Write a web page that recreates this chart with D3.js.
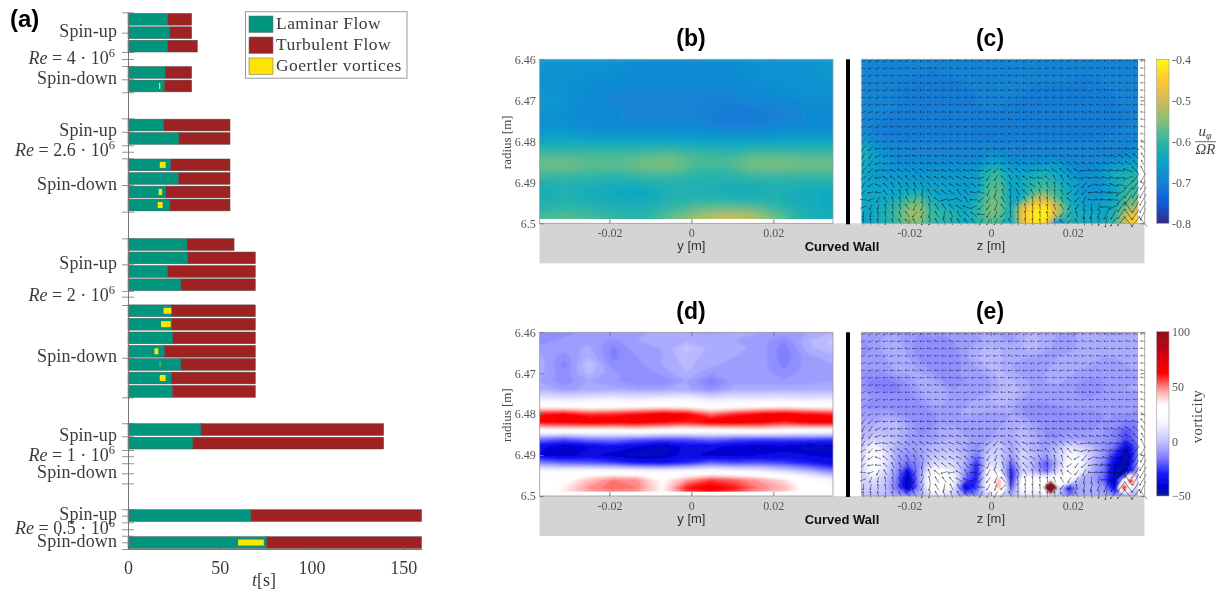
<!DOCTYPE html>
<html>
<head>
<meta charset="utf-8">
<style>
  html, body { margin: 0; padding: 0; background: #fff; }
  svg { display: block; }
  .serif { font-family: "Liberation Serif", serif; }
  .sans { font-family: "Liberation Sans", sans-serif; }
</style>
<script src="https://cdn.jsdelivr.net/npm/d3@7"></script>
</head>
<body>
<script>
const width = 1228;
const height = 594;

// ---- panel (a) data: times in seconds, rows in axis slots ----
const rowSlots = [0, 1, 2, 3.96, 4.97, 7.88, 8.88, 10.85, 11.86, 12.87, 13.84, 16.78, 17.78, 18.79, 19.78,
  21.72, 22.72, 23.74, 24.74, 25.72, 26.73, 27.73, 30.57, 31.58, 36.98, 38.99];
const laminarEnd = [21.8, 22.9, 21.8, 20.3, 20, 19.6, 27.8, 23.4, 27.6, 20.7, 22.9, 32.2, 32.7, 21.8, 28.9,
  23.6, 23.8, 24.5, 20, 28.9, 23.6, 24.2, 39.8, 35.4, 67, 75.6];
const runEnd = [34.7, 34.7, 37.8, 34.7, 34.7, 55.6, 55.6, 55.6, 55.6, 55.6, 55.6, 57.8, 69.4, 69.4, 69.4,
  69.4, 69.4, 69.4, 69.4, 69.4, 69.4, 69.4, 139.3, 139.3, 160, 160];
const goertlerStart = [null, null, null, null, 16.9, null, null, 17.3, null, 16.7, 16.2, null, null, null, null,
  19.4, 18, null, 14.4, 17.3, 17.3, null, null, null, null, 60];
const goertlerEnd = [null, null, null, null, 17.6, null, null, 20.5, null, 18.5, 18.9, null, null, null, null,
  23.6, 23.3, null, 16.5, 17.6, 20.5, null, null, null, null, 74];
const yTickSlots = [-0.52, 1, 2.44, 2.96, 3.48, 4.47, 5.44, 7.38, 8.38, 9.39, 9.87, 10.36, 12.35, 14.34, 16.32,
  18.26, 20.24, 20.67, 21.29, 25.22, 28.17, 30.1, 31.07, 32.09, 32.56, 33.08, 33.83, 34.58, 36.51, 36.99,
  37.48, 38, 38.48, 38.97, 39.47];
const phaseLabels = ["Spin-up", "Spin-down", "Spin-up", "Spin-down", "Spin-up", "Spin-down", "Spin-up", "Spin-down", "Spin-up", "Spin-down"];
const phaseSlots = [1, 4.47, 8.38, 12.35, 18.26, 25.22, 31.07, 33.83, 36.99, 38.97];
const reLabels = ["4", "2.6", "2", "1", "0.5"];
const reSlots = [2.96, 9.87, 20.67, 32.56, 38];
const timeTicks = [0, 50, 100, 150];
const legendNames = ["Laminar Flow", "Turbulent Flow", "Goertler vortices"];
const legendColors = ["#00967d", "#9e2024", "#ffe400"];

// ---- panel (b): velocity in hundredths, one row per radius ----
const bRows = [
  [-67,-67,-67,-68,-68,-69,-68,-68,-68,-68,-68,-67],
  [-67,-68,-68,-68,-69,-69,-69,-69,-68,-68,-67,-67],
  [-68,-68,-68,-69,-69,-69,-69,-69,-68,-68,-68,-67],
  [-67,-68,-69,-69,-69,-69,-69,-69,-69,-68,-68,-68],
  [-67,-67,-69,-70,-70,-70,-70,-70,-69,-69,-68,-68],
  [-67,-68,-69,-69,-70,-70,-70,-71,-71,-70,-69,-69],
  [-68,-68,-69,-69,-70,-70,-70,-71,-71,-70,-69,-69],
  [-67,-67,-68,-68,-68,-68,-68,-69,-69,-68,-68,-68],
  [-64,-64,-64,-64,-64,-65,-65,-65,-65,-65,-64,-64],
  [-60,-60,-60,-60,-60,-59,-60,-61,-60,-60,-60,-60],
  [-56,-56,-57,-57,-55,-55,-58,-58,-55,-55,-56,-56],
  [-58,-58,-59,-59,-58,-58,-60,-60,-58,-58,-58,-58],
  [-62,-62,-62,-63,-62,-62,-62,-62,-62,-62,-62,-62],
  [-63,-62,-63,-64,-64,-62,-62,-63,-63,-62,-63,-64],
  [-62,-61,-62,-63,-63,-61,-60,-60,-61,-62,-63,-64],
  [-60,-59,-60,-61,-61,-58,-55,-53,-54,-58,-62,-63],
  [-57,-56,-57,-59,-60,-55,-50,-48,-50,-56,-62,-63]
];

// ---- panel (c): velocity in hundredths ----
const cRows = [
  [-70,-70,-70,-70,-70,-70,-70,-70,-70,-70,-70,-70,-70,-70,-70,-70,-70,-70,-70,-70,-70,-70,-70,-70,-70],
  [-70,-70,-70,-70,-70,-70,-70,-70,-70,-70,-70,-70,-70,-70,-70,-70,-70,-70,-70,-70,-70,-70,-70,-70,-70],
  [-70,-70,-70,-70,-70,-70,-71,-70,-70,-70,-70,-70,-70,-70,-70,-70,-70,-70,-70,-70,-70,-70,-70,-70,-70],
  [-70,-70,-70,-70,-71,-71,-71,-71,-71,-70,-70,-70,-70,-70,-70,-70,-70,-70,-70,-71,-71,-70,-70,-70,-70],
  [-70,-70,-70,-70,-71,-71,-71,-71,-71,-71,-70,-70,-70,-70,-70,-71,-71,-71,-71,-71,-71,-71,-70,-70,-70],
  [-70,-70,-70,-70,-71,-71,-71,-71,-71,-71,-70,-70,-70,-70,-71,-71,-71,-71,-71,-71,-71,-71,-70,-70,-70],
  [-70,-70,-70,-70,-71,-71,-71,-71,-71,-71,-71,-70,-70,-71,-71,-71,-71,-71,-71,-71,-71,-71,-71,-70,-70],
  [-70,-70,-70,-71,-71,-71,-71,-71,-71,-71,-71,-71,-71,-71,-71,-71,-71,-71,-71,-71,-71,-71,-71,-70,-70],
  [-70,-70,-71,-71,-71,-71,-71,-71,-71,-71,-71,-71,-71,-71,-71,-71,-71,-71,-71,-71,-71,-71,-71,-70,-70],
  [-68,-70,-71,-71,-71,-71,-71,-71,-71,-71,-71,-71,-71,-71,-71,-71,-71,-71,-71,-71,-71,-71,-70,-70,-70],
  [-66,-68,-69,-70,-70,-70,-70,-70,-70,-70,-70,-70,-70,-70,-70,-70,-70,-70,-70,-70,-70,-70,-70,-69,-69],
  [-62,-66,-68,-70,-70,-70,-70,-70,-70,-70,-70,-69,-69,-70,-70,-70,-70,-70,-70,-70,-70,-70,-70,-69,-68],
  [-62,-65,-67,-69,-69,-69,-69,-69,-69,-69,-69,-67,-67,-69,-69,-69,-69,-69,-69,-70,-70,-69,-68,-68,-67],
  [-63,-66,-67,-68,-68,-68,-68,-68,-68,-68,-68,-64,-64,-67,-67,-67,-66,-66,-68,-69,-69,-68,-66,-65,-64],
  [-65,-66,-67,-67,-67,-67,-67,-67,-67,-67,-66,-60,-60,-65,-65,-63,-62,-64,-67,-68,-68,-66,-63,-62,-61],
  [-65,-65,-66,-66,-66,-66,-66,-66,-66,-67,-66,-59,-58,-66,-63,-61,-60,-62,-65,-67,-68,-67,-64,-61,-60],
  [-65,-65,-65,-65,-64,-64,-65,-66,-66,-66,-65,-58,-57,-65,-64,-59,-58,-60,-64,-67,-68,-67,-65,-60,-59],
  [-65,-65,-64,-63,-60,-58,-62,-65,-65,-66,-63,-57,-57,-65,-62,-52,-50,-58,-63,-66,-67,-66,-64,-58,-57],
  [-65,-64,-63,-60,-56,-54,-60,-63,-64,-65,-61,-56,-56,-64,-48,-43,-42,-50,-61,-65,-66,-65,-63,-56,-52],
  [-65,-64,-62,-59,-54,-53,-60,-60,-61,-64,-61,-56,-57,-64,-45,-41,-40,-52,-62,-63,-64,-64,-61,-50,-44],
  [-65,-64,-62,-60,-56,-55,-60,-61,-62,-65,-62,-58,-60,-65,-47,-42,-45,-75,-60,-63,-64,-64,-60,-48,-42]
];

// ---- panel (d): vorticity ----
const dRows = [
  [-9,-13,-8,-7,-8,-6,-7,-8,-7,-7,-8,-7,-4],
  [-13,-8,-8,-11,-7,-5,-5,-5,-7,-8,-13,-4,0],
  [-8,-9,-6,-14,-8,-7,0,-5,-6,-8,-15,-5,-1],
  [-6,-12,-4,-14,-10,-7,-2,-6,-7,-8,-15,-8,-5],
  [-5,-14,0,-12,-11,-7,-3,-6,-9,-8,-14,-8,-7],
  [-6,-12,-3,-9,-13,-9,-4,-10,-9,-8,-12,-8,-7],
  [-7,-12,-7,-9,-13,-13,-7,-15,-8,-8,-9,-8,-7],
  [-4,-8,-6,-6,-7,-7,-6,-11,-5,-5,-5,-5,-4],
  [10,8,10,12,10,12,14,8,10,10,10,8,10],
  [30,28,28,28,30,32,30,26,28,30,32,30,30],
  [62,66,58,60,64,68,66,52,60,66,68,64,60],
  [64,66,68,66,68,64,60,68,68,66,60,66,68],
  [30,30,30,30,32,30,28,28,30,32,30,28,26],
  [-15,-20,-14,-13,-18,-20,-20,-16,-20,-22,-22,-22,-24],
  [-38,-44,-40,-36,-40,-46,-38,-38,-42,-44,-42,-46,-44],
  [-40,-42,-38,-42,-46,-44,-38,-42,-42,-40,-38,-40,-42],
  [-12,-18,-20,-24,-32,-34,-28,-18,-22,-20,-24,-30,-36],
  [22,22,24,24,22,20,22,24,20,16,8,-2,-14],
  [26,30,42,50,48,32,46,56,52,46,38,26,16],
  [26,36,48,52,50,34,60,66,60,50,44,28,22],
  [30,36,44,46,44,34,50,56,50,44,38,30,26]
];

// ---- panel (e): vorticity ----
const eRows = [
  [-9,-9,-8,-8,-9,-10,-9,-9,-8,-8,-7,-7,-8,-8,-6,-4,-6,-7,-8,-6,-5,-8,-9,-7,-6],
  [-10,-9,-6,-5,-9,-11,-11,-12,-10,-9,-8,-6,-6,-8,-4,-3,-5,-8,-9,-6,-5,-4,-5,-7,-6],
  [-11,-10,-6,-5,-8,-12,-13,-13,-11,-8,-5,-3,-4,-6,-4,-3,-6,-8,-8,-6,-5,-4,-5,-6,-6],
  [-10,-9,-7,-6,-7,-11,-13,-13,-12,-8,-4,-2,-3,-6,-6,-7,-9,-7,-6,-6,-6,-7,-7,-6,-5],
  [-9,-9,-8,-6,-6,-8,-12,-13,-12,-9,-6,-3,-4,-7,-9,-8,-8,-6,-5,-6,-7,-8,-8,-7,-6],
  [-10,-11,-10,-7,-7,-7,-9,-12,-11,-9,-9,-6,-3,-6,-8,-9,-7,-5,-6,-8,-9,-9,-8,-8,-7],
  [-12,-14,-15,-13,-9,-6,-5,-10,-11,-10,-10,-8,-3,-3,-6,-8,-7,-6,-8,-10,-11,-10,-9,-8,-7],
  [-10,-13,-14,-14,-11,-7,-4,-6,-10,-10,-9,-8,-4,-2,-5,-8,-8,-8,-9,-11,-11,-10,-8,-7,-7],
  [-9,-10,-11,-11,-11,-9,-5,-5,-9,-9,-7,-4,-3,-2,-7,-9,-9,-9,-9,-10,-10,-9,-8,-8,-8],
  [-10,-11,-12,-12,-13,-12,-8,-7,-8,-7,-5,-5,-4,-6,-10,-11,-11,-10,-9,-9,-9,-8,-8,-8,-9],
  [-8,-9,-7,-9,-12,-13,-11,-9,-8,-6,-7,-8,-8,-7,-10,-13,-13,-12,-11,-11,-11,-10,-10,-10,-12],
  [-6,-6,-2,-3,-8,-12,-12,-8,-8,-9,-10,-10,-8,-6,-4,-9,-12,-12,-11,-11,-11,-10,-11,-14,-13],
  [-4,-3,-2,-3,-7,-11,-10,-5,-6,-8,-10,-9,-6,-5,-2,-7,-11,-11,-10,-10,-10,-10,-14,-22,-14],
  [-3,3,2,-2,-7,-10,-10,-5,-4,-6,-9,-8,-4,-6,-1,-5,-10,-10,-9,-8,-9,-10,-14,-24,-14],
  [0,20,5,-5,-8,-7,-4,-2,-2,-6,-12,-2,2,-8,2,-6,-8,-3,8,5,-3,-10,-18,-40,-18],
  [4,26,12,-6,-12,-10,-2,2,2,-4,-16,4,2,-8,6,-3,-8,2,18,14,0,-10,-30,-46,-15],
  [4,26,10,-8,-18,-12,4,8,6,-6,-28,8,8,-20,6,-6,-22,-4,24,20,-2,-14,-40,-46,-10],
  [4,24,6,-10,-36,-10,18,22,12,-10,-32,20,14,-30,4,-4,-18,6,22,16,-6,-16,-44,-42,-4],
  [2,10,2,-14,-46,-10,28,30,18,-20,-30,26,45,-34,26,28,30,30,36,-6,-6,-20,-45,24,-6],
  [2,4,0,-16,-46,-12,26,28,10,-42,-24,26,45,-22,26,20,26,14,-36,-6,-5,-10,-40,24,4],
  [0,-3,-2,-6,-12,-5,8,10,2,-12,-10,6,12,-6,12,6,14,0,-12,-4,-4,-6,-14,-6,-4]
];

// single-node peaks in panel (e), as z [m], radius [m], vorticity
const peakZ = [0.0146, 0.0326, 0.0342];
const peakRadius = [6.4979, 6.4979, 6.4963];
const peakValue = [100, 68, 68];

// velocity directions shared by (c) and (e), degrees, one row per measured radius
const quiverAngles = [
  [15,20,15,20,10,10,5,15,5,0,0,0,-5,-5,-5,-5,0,0,5,10,5,10,15,20,10,5,0,0,5,0,-5,-5,-10,-5,-5,-5,-5,-5,-5],
  [5,20,15,10,5,10,-5,5,0,-5,-10,-5,-10,-5,-5,0,-5,5,10,5,5,5,-5,0,5,5,-5,-5,0,-5,-10,-10,-10,-5,-10,-5,-10,-15,-10],
  [10,15,5,0,5,0,-5,0,0,-5,-5,-10,-5,-5,0,0,5,5,5,-5,-5,0,0,5,0,0,-5,-5,0,0,-5,-5,-5,-5,0,0,-5,-5,-10],
  [15,10,5,15,10,5,10,5,-5,0,0,0,5,-5,-5,5,0,10,5,-5,-10,-5,0,5,5,0,0,-5,-5,-5,0,-5,-5,0,-5,-5,-5,-5,-5],
  [10,15,5,10,5,-5,-10,-5,0,0,0,0,5,5,5,5,0,0,-5,-5,0,5,5,10,15,10,5,5,0,0,10,20,-15,-10,-5,-5,0,0,-5],
  [5,10,15,5,5,0,-5,-10,-10,-5,-5,0,0,5,5,5,-5,-5,-5,0,5,5,0,5,5,-5,0,5,0,0,-5,-5,-10,-5,-5,0,0,-5,-10],
  [15,10,5,0,-5,-5,-5,-5,0,-5,-10,-5,-5,0,5,5,5,-5,-5,-5,5,5,0,0,-5,-5,0,0,-5,0,-5,-5,-10,-5,-5,0,-5,-5,-10],
  [20,15,10,15,10,5,0,-5,-5,-5,-10,-5,0,0,5,10,5,-5,-5,0,5,5,5,5,-5,-5,-5,0,0,0,-10,-5,-5,0,0,5,5,-5,-5],
  [25,15,5,5,5,0,0,-5,-5,-5,0,0,0,5,10,5,0,-10,-10,-5,-5,5,5,0,0,0,0,-5,-5,-5,-5,-10,-5,-10,-5,0,0,-5,-10],
  [15,20,20,10,5,5,0,-5,-5,-5,-5,-5,5,5,5,5,5,5,0,-5,-5,-5,0,5,5,5,0,-5,-5,-5,5,0,-5,-5,-5,0,0,-5,-15],
  [30,20,10,5,5,5,0,-5,0,-5,-5,-5,0,0,0,5,5,5,0,-5,-5,-5,0,0,-5,-5,-5,0,0,-5,-5,-5,-5,-5,-5,-5,-5,-5,-15],
  [50,25,10,5,5,0,0,-5,-5,0,-5,-5,-5,-5,0,0,5,5,0,5,5,0,-5,-5,-5,0,-5,0,0,-5,-5,-5,-5,-5,-5,-5,0,-10,-30],
  [55,40,10,5,5,0,-5,0,-5,-5,0,-5,-5,-5,5,0,5,0,0,5,0,-5,0,-5,-5,-5,0,-5,-5,-5,-5,-5,-5,-5,-5,-10,-10,-15,-50],
  [65,55,25,15,5,0,-5,-10,-5,-5,-5,-10,-5,-5,0,5,5,0,0,5,-5,-5,-5,0,-5,-5,-10,-10,-15,-10,-5,-5,-10,-10,-15,-20,-30,-40,-60],
  [70,50,20,10,0,-10,-15,-15,-10,-5,-10,-10,-15,-15,-10,-5,0,5,10,-5,-15,-25,-10,-5,-5,-5,-15,-25,-30,-25,-15,-10,-10,-10,-15,-20,-25,-45,-60],
  [60,40,10,-10,-20,-25,-30,-35,-30,-15,-10,-15,-20,-20,-15,-10,5,30,45,-25,-40,-40,-20,-5,-10,-15,-30,-40,-35,-30,5,-10,-10,-15,-10,-5,-20,-45,-65],
  [30,45,5,-30,-35,-35,-45,-50,-45,-30,-25,-30,-35,-30,-20,-5,15,55,60,-45,-55,-50,-35,-15,-10,-40,-60,-65,-50,-15,15,5,-10,-15,-10,5,20,50,60],
  [60,30,-20,-40,-55,-60,-60,-65,-60,-50,-40,-35,-30,-25,-40,-30,-5,60,70,-60,-65,-55,-35,-30,-60,-75,-80,-75,-40,30,50,25,-5,-15,-20,-5,40,55,60],
  [40,10,-5,-45,-65,-70,-70,-75,80,-60,-45,-40,-35,-55,-50,-10,-15,65,75,-75,-80,-60,-45,-60,-80,-85,-85,-70,35,55,40,5,-10,-10,-5,35,55,60,60],
  [-5,20,60,-60,-75,-80,-60,70,80,-70,-40,15,10,-30,-60,0,40,60,-60,-60,-80,-70,-60,-80,-80,-85,-80,-70,-40,50,65,-5,-5,-5,-5,50,55,55,60],
  [20,70,80,-80,-80,-75,-55,65,70,-80,-60,-55,-50,-30,-20,25,45,55,70,-50,-85,-80,-80,-85,-85,-85,-70,-60,60,60,80,85,80,0,25,55,-55,60,60],
  [85,80,-85,-80,-80,-70,-55,50,70,80,-60,80,-65,-60,-45,-40,-5,60,70,45,-85,-85,-85,-85,-85,-80,-55,50,55,-80,80,75,70,65,60,55,-55,55,65],
  [-80,-85,-80,85,-75,-65,-50,-60,80,80,-60,-70,-75,-60,-50,-55,60,60,60,50,-60,-85,-85,-85,-85,-85,-85,-50,45,-60,-85,-80,85,80,55,50,-50,50,-50]
];

// arrow length in px, looked up on a coarse grid of 3 x 3 arrows
const quiverLengths = [
  [5,5,5,5,5,5,5,5,5,5,5,5,5],
  [5,5,5,5,5,5,5,5,5,5,5,5,5],
  [5,5,5,5,5,5,5,5,5,5,5,5,5],
  [5,5,5,5,5,5,5,5,5,5,5,5,5],
  [6,5,5,5,5,5,5,5,5,5,5,6,7],
  [6,6,6,6,6,6,6,6,6,6,7,8,10],
  [6,6,7,7,7,7,7,7,6,6,7,11,13],
  [6,6,7,7,7,7,7,7,6,6,8,11,13]
];

// colorbars
const parulaStops = [-80, -75, -70, -65, -60, -55, -50, -45, -40];
const parulaColors = ["#352a87", "#0f5cdd", "#1481d6", "#06a4ca", "#2eb7a4", "#87bf77", "#d1bb59", "#fec832", "#f9fb0e"];
const vortStops = [-50, -42, -30, -15, 0, 15, 24, 33, 45, 62, 80, 100];
const vortColors = ["#0a1f8f", "#0000d0", "#1a1aff", "#7f7fff", "#c4c4ff", "#f2f2ff", "#ffffff", "#ffffff", "#ffb0b0", "#ff0000", "#d00010", "#8c1020"];
const uTicks = [-80, -70, -60, -50, -40];
const vortTicks = [-50, 0, 50, 100];
const spanTicks = [-0.02, 0, 0.02];
const radiusTicks = [6.46, 6.47, 6.48, 6.49, 6.5];

const uColor = d3.scaleLinear().domain(parulaStops).range(parulaColors);
const vortColor = d3.scaleLinear().domain(vortStops).range(vortColors);

const svg = d3.select("body").append("svg")
  .attr("width", width)
  .attr("height", height)
  .style("font-family", "Liberation Serif, serif");
const defs = svg.append("defs");

// the reference is a slightly soft bitmap
defs.append("filter").attr("id", "soft").attr("x", "-2%").attr("y", "-2%").attr("width", "104%").attr("height", "104%")
  .append("feGaussianBlur").attr("stdDeviation", 0.35);
const root = svg.append("g").attr("filter", "url(#soft)");
root.append("rect").attr("width", width).attr("height", height).attr("fill", "#fff");

// ---- panel (a) ----
const x = d3.scaleLinear().domain([0, 160]).range([128, 421.6]);
const y = d3.scaleLinear().domain([-0.52, 39.47]).range([12.3, 549]);
const barH = y(0.44) - y(-0.44);
const rows = rowSlots.map((s, i) => ({ s, lam: laminarEnd[i], end: runEnd[i], g0: goertlerStart[i], g1: goertlerEnd[i] }));

const a = root.append("g");
a.selectAll(".lam").data(rows).join("rect").attr("class", "lam")
  .attr("x", x(0)).attr("y", d => y(d.s) - barH / 2)
  .attr("width", d => x(d.lam) - x(0)).attr("height", barH)
  .attr("fill", legendColors[0]).attr("stroke", "#555").attr("stroke-width", 0.5);
a.selectAll(".turb").data(rows).join("rect").attr("class", "turb")
  .attr("x", d => x(d.lam)).attr("y", d => y(d.s) - barH / 2)
  .attr("width", d => x(d.end) - x(d.lam)).attr("height", barH)
  .attr("fill", legendColors[1]).attr("stroke", "#555").attr("stroke-width", 0.5);
a.selectAll(".goe").data(rows.filter(d => d.g0 !== null)).join("rect").attr("class", "goe")
  .attr("x", d => x(d.g0)).attr("y", d => y(d.s) - 3)
  .attr("width", d => x(d.g1) - x(d.g0)).attr("height", 6)
  .attr("fill", legendColors[2]);

const yAxis = a.append("g").attr("transform", `translate(${x(0)},0)`)
  .call(d3.axisLeft(y).tickValues(yTickSlots).tickFormat("").tickSizeOuter(0));
yAxis.selectAll("line").attr("x1", 6).attr("x2", -6).attr("stroke", "#666").attr("stroke-width", 0.7);
yAxis.select(".domain").attr("stroke", "#777").attr("stroke-width", 1);

const xAxis = a.append("g").attr("transform", `translate(0,${y(39.47)})`)
  .call(d3.axisBottom(x).tickValues(timeTicks).tickFormat(d3.format("d")).tickSize(-3).tickPadding(12).tickSizeOuter(0));
xAxis.selectAll("text").attr("font-family", "Liberation Serif").attr("font-size", 18).attr("fill", "#3a3a3a");
xAxis.selectAll("line").attr("stroke", "#666");
xAxis.select(".domain").attr("stroke", "#777");

a.selectAll(".phase").data(phaseLabels).join("text").attr("class", "phase")
  .attr("x", 117).attr("y", (d, i) => y(phaseSlots[i]) + 4.5)
  .attr("text-anchor", "end").attr("font-size", 18).attr("letter-spacing", 0.1).attr("fill", "#3a3a3a")
  .text(d => d);

const reText = a.selectAll(".re").data(reLabels).join("text").attr("class", "re")
  .attr("x", 115).attr("y", (d, i) => y(reSlots[i]) + 4.5)
  .attr("text-anchor", "end").attr("font-size", 18).attr("fill", "#3a3a3a");
reText.append("tspan").attr("font-style", "italic").text("Re");
reText.append("tspan").text(d => ` = ${d} · 10`);
reText.append("tspan").attr("dy", -7).attr("font-size", 12.5).text("6");

a.append("text").attr("x", 264).attr("y", 586).attr("text-anchor", "middle").attr("font-size", 18).attr("fill", "#3a3a3a")
  .html('<tspan font-style="italic">t</tspan>[s]');

// legend
const legend = root.append("g");
legend.append("rect").attr("x", 245.5).attr("y", 11.7).attr("width", 161.5).attr("height", 66.5)
  .attr("fill", "#fff").attr("stroke", "#999").attr("stroke-width", 1);
legendNames.forEach((name, i) => {
  const yy = 16 + i * 21;
  legend.append("rect").attr("x", 249).attr("y", yy).attr("width", 24).attr("height", 16.5)
    .attr("fill", legendColors[i]).attr("stroke", "#777").attr("stroke-width", 0.6);
  legend.append("text").attr("x", 276).attr("y", yy + 13).attr("font-size", 17.5).attr("letter-spacing", 0.45)
    .attr("fill", "#3a3a3a").text(name);
});

// panel letters
const panelLetters = ["(b)", "(c)", "(d)", "(e)"];
const letterX = [691, 990, 691, 990];
const letterY = [46, 46, 319, 319];
root.append("text").attr("class", "sans").attr("x", 10).attr("y", 27)
  .attr("font-size", 24).attr("font-weight", "bold").text("(a)");
root.selectAll(".letter").data(panelLetters).join("text").attr("class", "letter sans")
  .attr("x", (d, i) => letterX[i]).attr("y", (d, i) => letterY[i])
  .attr("text-anchor", "middle").attr("font-size", 23).attr("font-weight", "bold").text(d => d);

// ---- field panels ----
// fills a grid with d3.contours bands, stretched so the outer nodes sit on the frame
function drawField(g, id, fieldRows, box, color, step, blur) {
  const m = fieldRows.length;
  const n = fieldRows[0].length;
  const sx = d3.scaleLinear().domain([0.5, n - 0.5]).range([box.x0, box.x1]);
  const sy = d3.scaleLinear().domain([0.5, m - 0.5]).range([box.y0, box.y1]);
  const path = d3.geoPath(d3.geoTransform({
    point(px, py) { this.stream.point(sx(px), sy(py)); }
  }));
  const vals = fieldRows.flat();
  const lo = d3.min(vals);
  const thresholds = d3.range(lo, d3.max(vals) + step, step);
  const bands = d3.contours().size([n, m]).thresholds(thresholds)(vals);

  defs.append("clipPath").attr("id", "clip-" + id).append("rect")
    .attr("x", box.x0).attr("y", box.y0)
    .attr("width", box.x1 - box.x0).attr("height", box.y1 - box.y0);
  defs.append("filter").attr("id", "blur-" + id).attr("filterUnits", "userSpaceOnUse")
    .attr("x", box.x0 - 40).attr("y", box.y0 - 40)
    .attr("width", box.x1 - box.x0 + 80).attr("height", box.y1 - box.y0 + 80)
    .append("feGaussianBlur").attr("stdDeviation", blur);

  const layer = g.append("g").attr("clip-path", `url(#clip-${id})`)
    .append("g").attr("filter", `url(#blur-${id})`);
  layer.selectAll("path").data(bands).join("path")
    .attr("d", path)
    .attr("fill", d => color(d.value + step / 2));
  return layer;
}

function drawAxes(g, xS, yS, box, frameRight, radiusLabels, axisName) {
  const grey = "#777";
  g.append("rect").attr("x", box.x0).attr("y", box.y0).attr("width", frameRight - box.x0).attr("height", box.y1 - box.y0)
    .attr("fill", "none").attr("stroke", "#999").attr("stroke-width", 0.8);
  const bottom = g.append("g").attr("transform", `translate(0,${box.y1})`)
    .call(d3.axisBottom(xS).tickValues(spanTicks).tickFormat(d => String(d)).tickSize(-4).tickPadding(5).tickSizeOuter(0));
  const top = g.append("g").attr("transform", `translate(0,${box.y0})`)
    .call(d3.axisTop(xS).tickValues(spanTicks).tickFormat("").tickSize(-4).tickSizeOuter(0));
  bottom.selectAll("text").attr("font-family", "Liberation Serif").attr("font-size", 12).attr("fill", "#555");
  [bottom, top].forEach(s => {
    s.select(".domain").attr("stroke", "none");
    s.selectAll("line").attr("stroke", grey);
  });
  const side = radiusLabels
    ? d3.axisLeft(yS).tickSize(-4).tickPadding(4).tickFormat(d => String(d))
    : d3.axisRight(yS).tickSize(-4).tickFormat("");
  const sideG = g.append("g").attr("transform", `translate(${radiusLabels ? box.x0 : frameRight},0)`)
    .call(side.tickValues(radiusTicks).tickSizeOuter(0));
  sideG.select(".domain").attr("stroke", "none");
  sideG.selectAll("line").attr("stroke", grey);
  sideG.selectAll("text").attr("font-family", "Liberation Serif").attr("font-size", 12).attr("fill", "#555");
  g.append("text").attr("class", "sans").attr("x", xS(0)).attr("y", box.y1 + 27)
    .attr("text-anchor", "middle").attr("font-size", 13).attr("fill", "#333").text(axisName);
}

function drawArrows(g, xS, yS) {
  const col = d3.scaleLinear().domain([0, 38]).range([-0.0312, 0.0372]);
  const row = d3.scaleLinear().domain([0, 22]).range([6.4604, 6.4996]);
  const cells = [];
  quiverAngles.forEach((r, j) => r.forEach((deg, k) => cells.push({ j, k, deg })));
  g.append("g").selectAll("path").data(cells).join("path")
    .attr("d", d => {
      const len = quiverLengths[Math.floor(d.j / 3)][Math.floor(d.k / 3)];
      const t = d.deg * Math.PI / 180;
      const cx = xS(col(d.k));
      const cy = yS(row(d.j));
      const ux = Math.cos(t), uy = -Math.sin(t);
      const hx = cx - ux * len / 2, hy = cy - uy * len / 2;
      const p = d3.path();
      p.moveTo(cx + ux * len / 2, cy + uy * len / 2);
      p.lineTo(hx, hy);
      p.moveTo(hx + ux * 1.3 - uy * 0.6, hy + uy * 1.3 + ux * 0.6);
      p.lineTo(hx, hy);
      p.lineTo(hx + ux * 1.3 + uy * 0.6, hy + uy * 1.3 - ux * 0.6);
      return p.toString();
    })
    .attr("fill", "none").attr("stroke", "#111").attr("stroke-width", 0.6)
    .attr("stroke-opacity", d => d.j < 12 ? 0.6 : 0.8);
}

function drawColorbar(g, id, scale, stops, colors, ticks, box, fmt) {
  const grad = defs.append("linearGradient").attr("id", id).attr("x1", 0).attr("x2", 0).attr("y1", 1).attr("y2", 0);
  grad.selectAll("stop").data(stops).join("stop")
    .attr("offset", d => (d - stops[0]) / (stops[stops.length - 1] - stops[0]))
    .attr("stop-color", (d, i) => colors[i]);
  g.append("rect").attr("x", box.x0).attr("y", box.y0).attr("width", box.x1 - box.x0).attr("height", box.y1 - box.y0)
    .attr("fill", `url(#${id})`).attr("stroke", "#999").attr("stroke-width", 0.6);
  const axis = g.append("g").attr("transform", `translate(${box.x1},0)`)
    .call(d3.axisRight(scale).tickValues(ticks).tickFormat(fmt).tickSize(0).tickPadding(3).tickSizeOuter(0));
  axis.select(".domain").attr("stroke", "none");
  axis.selectAll("text").attr("font-family", "Liberation Serif").attr("font-size", 12).attr("fill", "#555");
}

const topBox = { y0: 59.3, y1: 223.3 };
const lowBox = { y0: 332.3, y1: 496 };
const yRange = b => d3.scaleLinear().domain([6.46, 6.5]).range([b.y0, b.y1]);
const leftX = d3.scaleLinear().domain([-0.037, 0.03455]).range([539.7, 833]);
const rightX = d3.scaleLinear().domain([-0.0316, 0.0376]).range([861.7, 1144.7]);
const rightHeatEnd = 1138;

// grey wall strips and the black divider go under the plots
[topBox, lowBox].forEach(b => {
  root.append("rect").attr("x", 539.5).attr("y", b.y1).attr("width", 605).attr("height", 40).attr("fill", "#d4d4d4");
  root.append("rect").attr("x", 846).attr("y", b.y0).attr("width", 4).attr("height", b.y1 - b.y0 + 1).attr("fill", "#000");
  root.append("text").attr("class", "sans").attr("x", 842).attr("y", b.y1 + 28)
    .attr("text-anchor", "middle").attr("font-size", 13).attr("font-weight", "bold").attr("fill", "#111").text("Curved Wall");
});

// (b)
const bBox = { x0: 539.7, x1: 833, y0: topBox.y0, y1: topBox.y1 };
drawField(root, "b", bRows, bBox, uColor, 0.5, 4);
root.append("rect").attr("x", 539.7).attr("y", 219).attr("width", 293.3).attr("height", topBox.y1 - 219).attr("fill", "#fff");
drawAxes(root, leftX, yRange(topBox), bBox, 833, true, "y [m]");

// (c)
const cBox = { x0: 861.7, x1: rightHeatEnd, y0: topBox.y0, y1: topBox.y1 };
drawField(root, "c", cRows, cBox, uColor, 1, 2);
drawArrows(root, rightX, yRange(topBox));
drawAxes(root, rightX, yRange(topBox), cBox, 1144.7, false, "z [m]");

// (d)
const dBox = { x0: 539.7, x1: 833, y0: lowBox.y0, y1: lowBox.y1 };
drawField(root, "d", dRows, dBox, vortColor, 3, 1.3);
root.append("rect").attr("x", 539.7).attr("y", 491.7).attr("width", 293.3).attr("height", lowBox.y1 - 491.7).attr("fill", "#fff");
drawAxes(root, leftX, yRange(lowBox), dBox, 833, true, "y [m]");

// (e)
const eBox = { x0: 861.7, x1: rightHeatEnd, y0: lowBox.y0, y1: lowBox.y1 };
const eLayer = drawField(root, "e", eRows, eBox, vortColor, 3, 1);
const ey = yRange(lowBox);
eLayer.append("line")
  .attr("x1", rightX(peakZ[1])).attr("y1", ey(peakRadius[1]))
  .attr("x2", rightX(peakZ[2])).attr("y2", ey(peakRadius[2]))
  .attr("stroke", "#fff").attr("stroke-width", 12).attr("stroke-linecap", "round");
eLayer.selectAll(".peak").data(peakValue).join("path").attr("class", "peak")
  .attr("d", (d, i) => d3.symbol(d3.symbolSquare, i === 0 ? 105 : 22)())
  .attr("transform", (d, i) => `translate(${rightX(peakZ[i])},${ey(peakRadius[i])}) rotate(45)`)
  .attr("fill", d => vortColor(d));
drawArrows(root, rightX, ey);
drawAxes(root, rightX, ey, eBox, 1144.7, false, "z [m]");

// radius labels
[topBox, lowBox].forEach(b => {
  root.append("text").attr("transform", `translate(511,${(b.y0 + b.y1) / 2 + 1}) rotate(-90)`)
    .attr("text-anchor", "middle").attr("font-size", 13).attr("fill", "#444").text("radius [m]");
});

// colorbars
const uBar = { x0: 1156.7, x1: 1169, y0: 59.3, y1: 223.3 };
const vBar = { x0: 1156.7, x1: 1169, y0: 331.7, y1: 496 };
drawColorbar(root, "parula", d3.scaleLinear().domain([-80, -40]).range([uBar.y1, uBar.y0]),
  parulaStops, parulaColors, uTicks, uBar, d => (d / 100).toFixed(1));
drawColorbar(root, "vort", d3.scaleLinear().domain([-50, 100]).range([vBar.y1, vBar.y0]),
  vortStops, vortColors, vortTicks, vBar, d3.format("d"));

// u_phi / Omega R label
const frac = root.append("g").attr("fill", "#444").attr("font-size", 15);
const num = frac.append("text").attr("x", 1205).attr("y", 136).attr("text-anchor", "middle").attr("font-style", "italic");
num.append("tspan").text("u");
num.append("tspan").attr("dy", 3).attr("font-size", 10).text("φ");
frac.append("line").attr("x1", 1195).attr("x2", 1216).attr("y1", 141.7).attr("y2", 141.7).attr("stroke", "#444").attr("stroke-width", 0.8);
frac.append("text").attr("x", 1205.5).attr("y", 153.5).attr("text-anchor", "middle").attr("font-style", "italic").text("ΩR");
root.append("text").attr("transform", "translate(1202,416.5) rotate(-90)")
  .attr("text-anchor", "middle").attr("font-size", 14.5).attr("letter-spacing", 0.5).attr("fill", "#444").text("vorticity");
</script>
</body>
</html>
